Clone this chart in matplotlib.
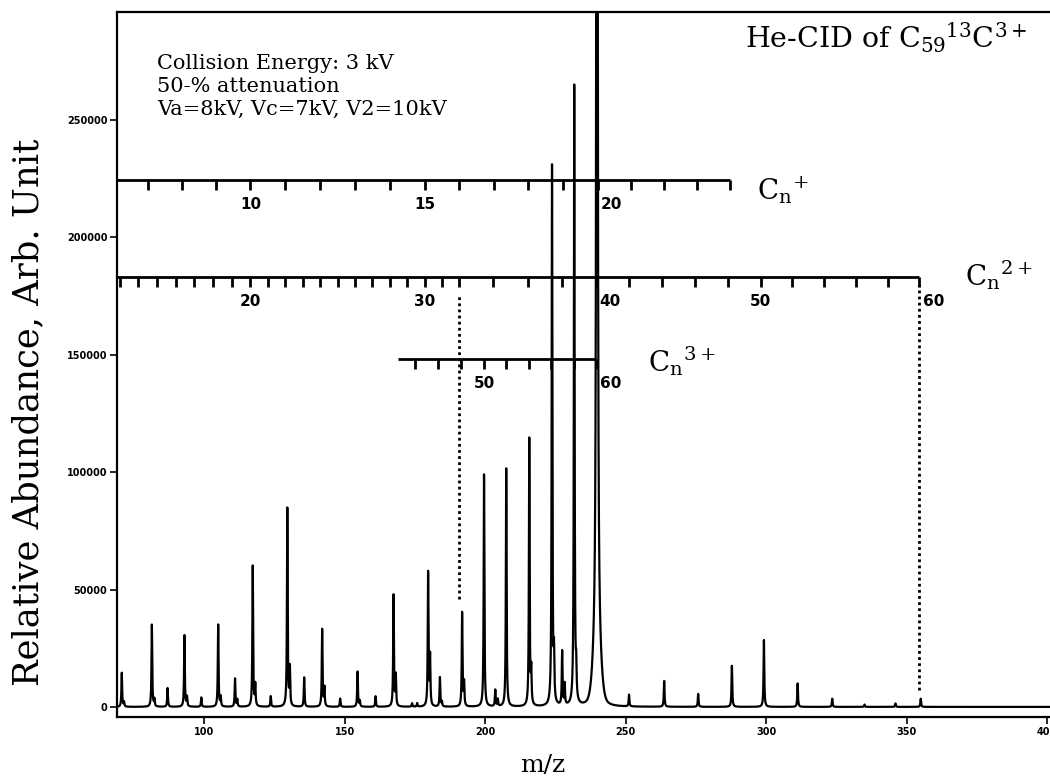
# He-CID spectrum of C59 13C 3+ with C_n scales
import numpy as np
import matplotlib
matplotlib.use('Agg')
import matplotlib.pyplot as plt

plt.rcParams['font.family'] = 'DejaVu Serif'
plt.rcParams['mathtext.fontset'] = 'dejavuserif'
plt.rcParams['mathtext.default'] = 'rm'

# peak centres (m/z as read on the axis) and heights (arb. unit)
peak_mz = [70.7, 71.5, 81.4, 82.3, 87.0, 93.0, 93.9, 99.0, 105.0, 105.9,
           111.0, 111.8, 117.3, 118.2, 123.7, 129.6, 130.5, 135.6, 142.0, 142.8,
           148.4, 154.6, 155.4, 161.0, 167.4, 168.2, 174.0, 175.8, 179.7, 180.4,
           183.9, 184.6, 191.8, 192.5, 199.6, 203.6, 204.5, 207.5, 215.7, 216.4,
           223.8, 224.5, 227.4, 228.3, 231.7, 232.4, 251.2, 263.7, 275.8,
           287.8, 299.2, 311.2, 323.5, 335.0, 346.0, 355.0]
peak_height = [14500, 2000, 35000, 3000, 8000, 30500, 4000, 4000, 35000, 4000,
               12000, 3000, 60000, 9000, 4500, 84500, 16000, 12500, 33000, 8000,
               3500, 15000, 2500, 4500, 47500, 13000, 1500, 1500, 57000, 21000,
               12500, 2000, 40000, 10000, 99000, 7000, 3000, 101500, 114000, 14000,
               230000, 19000, 23000, 9000, 264000, 12000, 5000, 11000, 5500,
               17500, 28500, 10000, 3500, 1000, 1500, 3500]
# parent ion, off scale, with its broad foot
parent_mz = 239.8
parent_height = 2000000
parent_foot = 25000

xticks = [100, 150, 200, 250, 300, 350, 400]
yticks = [0, 50000, 100000, 150000, 200000, 250000]

# C_n scales: n values and the m/z where the drawn scale puts them
cn1_anchor_n = [7, 10, 15, 20, 24]
cn1_anchor_mz = [80.0, 116.5, 178.5, 240.0, 287.0]
cn1_ticks = list(range(7, 25))
cn1_labels = [10, 15, 20]

cn2_anchor_n = [13, 20, 30, 40, 50, 60]
cn2_anchor_mz = [70.0, 116.5, 178.5, 239.5, 298.0, 354.5]
cn2_ticks = list(range(13, 33)) + list(range(34, 61, 2))
cn2_labels = [20, 30, 40, 50, 60]

cn3_anchor_n = [44, 50, 60]
cn3_anchor_mz = [175.0, 199.6, 239.5]
cn3_ticks = list(range(44, 61, 2))
cn3_labels = [50, 60]

info_lines = ['Collision Energy: 3 kV', '50-% attenuation', 'Va=8kV, Vc=7kV, V2=10kV']

# build the trace from the peak list
x = np.linspace(69, 401, 40000)
y = np.zeros_like(x)
for c, h in zip(peak_mz, peak_height):
    w = 0.15
    y += h * w**2 / ((x - c)**2 + w**2)
y += parent_height * 0.12**2 / ((x - parent_mz)**2 + 0.12**2)
y += parent_foot * np.exp(-0.5 * ((x - parent_mz) / 1.2)**2)

fig = plt.figure(figsize=(10.5, 7.83), dpi=100)
ax = fig.add_axes([117/1050, 66/783, 933/1050, 705/783])
ax.plot(x, y, color='black', lw=1.6)
ax.set_xlim(69, 401)
ax.set_ylim(-4300, 296000)
ax.set_xticks(xticks)
ax.set_yticks(yticks)
ax.tick_params(direction='out', length=5, width=1.2, labelsize=7, pad=2)
for lbl in ax.get_xticklabels() + ax.get_yticklabels():
    lbl.set_fontfamily('DejaVu Sans')
    lbl.set_fontweight('bold')
ax.spines['right'].set_visible(False)
for s in ['left', 'bottom', 'top']:
    ax.spines[s].set_linewidth(1.6)


def draw_scale(anchor_n, anchor_mz, ticks, labels, y0, start_mz, end_n, left_labels):
    pos = np.interp(ticks, anchor_n, anchor_mz)
    end_mz = np.interp(end_n, anchor_n, anchor_mz)
    ax.plot([start_mz, end_mz], [y0, y0], color='black', lw=2, solid_capstyle='butt')
    ax.vlines(pos, y0 - 4200, y0, color='black', lw=2)
    for n in labels:
        p = np.interp(n, anchor_n, anchor_mz)
        if n in left_labels:
            ax.text(p + 1.2, y0 - 10500, str(n), ha='left', va='center',
                    fontsize=11, fontweight='bold', family='DejaVu Sans')
        else:
            ax.text(p, y0 - 10500, str(n), ha='center', va='center',
                    fontsize=11, fontweight='bold', family='DejaVu Sans')


draw_scale(cn1_anchor_n, cn1_anchor_mz, cn1_ticks, cn1_labels, 224400, 69, 24, [20])
draw_scale(cn2_anchor_n, cn2_anchor_mz, cn2_ticks, cn2_labels, 183100, 69, 60, [40, 60])
draw_scale(cn3_anchor_n, cn3_anchor_mz, cn3_ticks, cn3_labels, 148200, 169, 60, [60])

ax.text(296.8, 216000, r'C$_\mathrm{n}$$^\mathrm{+}$', fontsize=20, va='baseline')
ax.text(370.8, 179700, r'C$_\mathrm{n}$$^\mathrm{2+}$', fontsize=20, va='baseline')
ax.text(258.0, 142700, r'C$_\mathrm{n}$$^\mathrm{3+}$', fontsize=20, va='baseline')

# dotted guide lines
dot_x1 = np.interp(32, cn2_anchor_n, cn2_anchor_mz)
dot_x2 = np.interp(60, cn2_anchor_n, cn2_anchor_mz)
ax.vlines(dot_x1, 46000, 176000, color='black', lw=2, linestyles=(0, (1, 1.2)))
ax.vlines(dot_x2, 7000, 180000, color='black', lw=2, linestyles=(0, (1, 1.2)))

for i, line in enumerate(info_lines):
    ax.text(83.3, 271700 - i * 9800, line, fontsize=15, va='baseline')

ax.text(292.5, 280700, r'He-CID of C$_{59}$$^{13}$C$^{3+}$', fontsize=20.5, va='baseline')

fig.text(28/1050, 1 - 412/783, 'Relative Abundance, Arb. Unit', rotation=90,
         ha='center', va='center', fontsize=25.5)
fig.text(543/1050, 1 - 765/783, 'm/z', ha='center', va='center', fontsize=18)

fig.savefig('out.png', dpi=100)
